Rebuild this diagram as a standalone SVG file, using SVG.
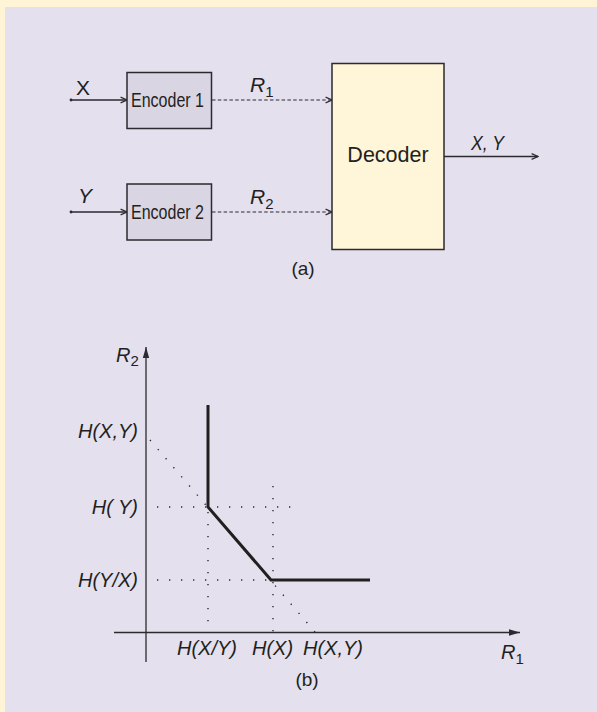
<svg xmlns="http://www.w3.org/2000/svg" width="597" height="712" viewBox="0 0 597 712">
<style>
text{font-family:"Liberation Sans",Arial,Helvetica,sans-serif;fill:#231f20}
.it{font-style:italic}
.ln{stroke:#2b2a2e;stroke-width:1.3;fill:none}
.dash{stroke:#2b2a2e;stroke-width:1.2;fill:none;stroke-dasharray:3.5 2.3}
.dot{stroke:#2b2a2e;stroke-width:1.4;fill:none;stroke-dasharray:1.3 10.7}
.box{stroke:#2b2a2e;stroke-width:1.5}
</style>
<defs>
<marker id="chev" viewBox="0 0 10 10" refX="9" refY="5" markerWidth="8" markerHeight="8" markerUnits="userSpaceOnUse" orient="auto">
<path d="M1,1.5 L9,5 L1,8.5" fill="none" stroke="#2b2a2e" stroke-width="1.6"/>
</marker>
<marker id="tri" viewBox="0 0 10 10" refX="10" refY="5" markerWidth="11" markerHeight="8" markerUnits="userSpaceOnUse" orient="auto" preserveAspectRatio="none">
<path d="M0,1 L10,5 L0,9 Z" fill="#2b2a2e"/>
</marker>
</defs>
<rect x="0" y="0" width="597" height="712" fill="#fff4d6"/>
<rect x="5" y="7" width="592" height="705" fill="#e4e0ee"/>

<g id="connectors">
<line class="ln" x1="71" y1="100" x2="127" y2="100" marker-end="url(#chev)"/>
<circle cx="71" cy="100" r="1.4" fill="#2b2a2e"/>
<line class="ln" x1="71" y1="212" x2="127" y2="212" marker-end="url(#chev)"/>
<circle cx="71" cy="212" r="1.4" fill="#2b2a2e"/>
<line class="dash" x1="212" y1="100" x2="332" y2="100" marker-end="url(#chev)"/>
<line class="dash" x1="212" y1="212" x2="332" y2="212" marker-end="url(#chev)"/>
<line class="ln" x1="444" y1="156.5" x2="538" y2="156.5" marker-end="url(#chev)"/>
</g>

<g id="labels-a">
<text x="76" y="94.5" font-size="21">X</text>
<text x="78" y="203" font-size="21" class="it">Y</text>
<text x="250" y="92" font-size="21" class="it">R<tspan font-size="15" dy="5" font-style="normal">1</tspan></text>
<text x="250" y="204" font-size="21" class="it">R<tspan font-size="15" dy="5" font-style="normal">2</tspan></text>
<text x="471" y="150" font-size="20" class="it" textLength="33" lengthAdjust="spacingAndGlyphs">X, Y</text>
<text x="303" y="275" font-size="19" text-anchor="middle">(a)</text>
</g>

<g id="encoder1">
<rect class="box" x="127" y="72.5" width="84.5" height="56" fill="#d9d5e3"/>
<text x="131" y="106.5" font-size="20.5" textLength="73" lengthAdjust="spacingAndGlyphs">Encoder 1</text>
</g>
<g id="encoder2">
<rect class="box" x="127" y="184" width="84.5" height="56" fill="#d9d5e3"/>
<text x="131" y="218.5" font-size="20.5" textLength="73" lengthAdjust="spacingAndGlyphs">Encoder 2</text>
</g>
<g id="decoder">
<rect class="box" x="332" y="63.5" width="112" height="186" fill="#fff5d8"/>
<text x="388" y="162" font-size="21.5" text-anchor="middle">Decoder</text>
</g>

<g id="plot">
<line class="ln" x1="146" y1="662" x2="146" y2="347" marker-end="url(#tri)"/>
<line class="ln" x1="114" y1="632.5" x2="520" y2="632.5" marker-end="url(#tri)"/>
<line class="dot" x1="157" y1="507" x2="292" y2="507"/>
<line class="dot" x1="157" y1="580" x2="270" y2="580"/>
<line class="dot" x1="208" y1="512" x2="208" y2="632"/>
<line class="dot" x1="273" y1="486" x2="273" y2="632"/>
<line class="dot" x1="150" y1="440" x2="315" y2="632"/>
<polyline points="208,405 208,507 271,580 370,580" fill="none" stroke="#231f20" stroke-width="3"/>
<text x="116" y="361.5" font-size="20" class="it">R<tspan font-size="15" dy="4.5" font-style="normal">2</tspan></text>
<text x="501" y="659" font-size="20" class="it">R<tspan font-size="15" dy="4.5" font-style="normal">1</tspan></text>
<text x="138" y="437.5" font-size="20" class="it" text-anchor="end">H(X,Y)</text>
<text x="138" y="513.5" font-size="20" class="it" text-anchor="end">H( Y)</text>
<text x="138" y="587" font-size="20" class="it" text-anchor="end">H(Y/X)</text>
<text x="177" y="655" font-size="20" class="it">H(X/Y)</text>
<text x="252" y="655" font-size="20" class="it">H(X)</text>
<text x="303" y="655" font-size="20" class="it">H(X,Y)</text>
<text x="307" y="686" font-size="19" text-anchor="middle">(b)</text>
</g>
</svg>
